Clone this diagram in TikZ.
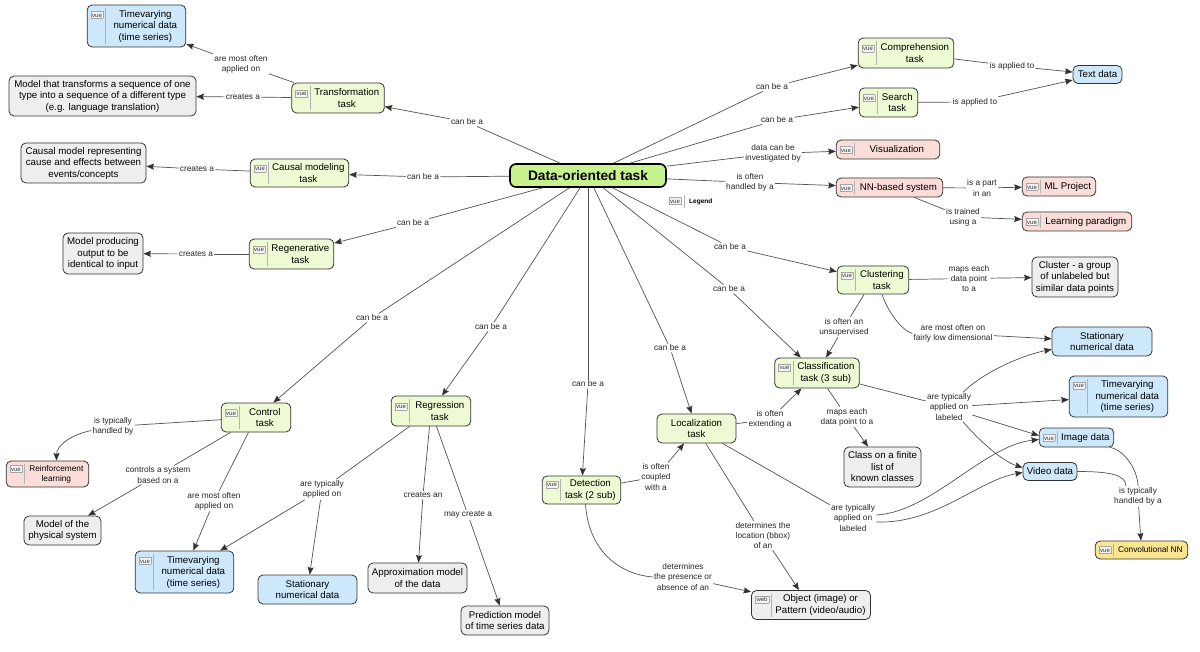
\documentclass[tikz,border=0pt]{standalone}
\usepackage{fontspec}
\setmainfont{Liberation Sans}
\usetikzlibrary{arrows.meta}
\definecolor{cdot}{HTML}{C8F28E}
\definecolor{ctask}{HTML}{EDFAD3}
\definecolor{cdata}{HTML}{CCE8FA}
\definecolor{cmodel}{HTML}{EEEEEE}
\definecolor{csys}{HTML}{FADCD8}
\definecolor{cnnc}{HTML}{FAE590}
\newcommand{\vueicon}{{\setlength{\fboxsep}{1.1pt}\setlength{\fboxrule}{0.4pt}\fcolorbox{black!35}{black!4}{\fontsize{6}{6}\selectfont\color{black!80}\rule{0pt}{4.4pt}vue}}}
\newcommand{\webicon}{{\setlength{\fboxsep}{1.1pt}\setlength{\fboxrule}{0.4pt}\fcolorbox{black!35}{black!4}{\fontsize{6}{6}\selectfont\color{black!80}\rule{0pt}{4.4pt}web}}}
\newcommand{\vtext}[3][\vueicon]{#1\hspace{5pt}\parbox[t]{\dimexpr#2pt-25pt\relax}{\centering #3}}
\tikzset{
  nbase/.style={rounded corners=5pt, draw=black!80, line width=0.8pt, inner xsep=3.5pt, inner ysep=3pt, font=\fontsize{9.7}{11.5}\selectfont},
  taskbox/.style={nbase, fill=ctask},
  databox/.style={nbase, fill=cdata},
  modelbox/.style={nbase, fill=cmodel},
  sysbox/.style={nbase, fill=csys},
  nnbox/.style={nbase, fill=cnnc},
  plain/.style={align=center},
  vuebox/.style={path picture={\draw[black!30, line width=0.8pt] ([xshift=#1,yshift=-3pt]path picture bounding box.north west) -- ([xshift=#1,yshift=3pt]path picture bounding box.south west);}},
  vuebox/.default=18.6pt,
  dotbox/.style={rounded corners=6pt, draw=black, line width=1.6pt, fill=cdot, font=\fontsize{13.75}{15}\selectfont\bfseries, minimum width=156pt, minimum height=23pt},
  lbl/.style={fill=white, rounded corners=2pt, inner sep=1.2pt, font=\fontsize{8.3}{10.2}\selectfont, text=black!85, align=center},
  conn/.style={draw=black!68, line width=0.7pt},
  arrc/.style={conn, -{Stealth[length=7.5pt, width=6pt, inset=1pt, color=black!80]}},
}
\begin{document}
\begin{tikzpicture}[x=1pt, y=-1pt]
\fill[white] (0,0) rectangle (1200,652);
\useasboundingbox (0,0) rectangle (1200,652);

% ---------- concept nodes ----------
\node[dotbox] (dot) at (588,175.5) {Data-oriented task};

\node[databox, vuebox, minimum height=42pt] (tv1) at (136.5,26) {\vtext{99}{Timevarying\\numerical data\\(time series)}};
\node[taskbox, vuebox, minimum height=30pt] (trans) at (338,98) {\vtext{93}{Transformation\\task}};
\node[modelbox, plain, minimum width=187pt, minimum height=40pt] (mtrans) at (102.5,96) {Model that transforms a sequence of one\\type into a sequence of a different type\\(e.g. language translation)};
\node[modelbox, plain, minimum width=125pt, minimum height=40pt] (mcausal) at (83.5,163) {Causal model representing\\cause and effects between\\events/concepts};
\node[taskbox, vuebox, minimum height=28pt] (causal) at (299.5,173) {\vtext{99}{Causal modeling\\task}};
\node[taskbox, vuebox, minimum height=30pt] (regen) at (291.5,254) {\vtext{85}{Regenerative\\task}};
\node[modelbox, plain, minimum width=80pt, minimum height=41pt] (mregen) at (103,253.5) {Model producing\\output to be\\identical to input};
\node[taskbox, vuebox, minimum height=30pt] (comp) at (906,53) {\vtext{96}{Comprehension\\task}};
\node[taskbox, vuebox, minimum height=29pt] (search) at (888.5,102.5) {\vtext{59}{Search\\task}};
\node[databox, plain, minimum width=49pt, minimum height=18pt] (text) at (1097.5,74.5) {Text data};
\node[sysbox, vuebox, minimum height=19pt] (vis) at (888,149.5) {\vtext{104}{Visualization}};
\node[sysbox, vuebox, minimum height=19pt] (nn) at (889.5,187.5) {\vtext{107}{NN-based system}};
\node[sysbox, vuebox, minimum height=19pt] (mlp) at (1059,186.5) {\vtext{74}{ML Project}};
\node[sysbox, vuebox, minimum height=19pt] (lp) at (1077,221.5) {\vtext{110}{Learning paradigm}};
\node[taskbox, vuebox, minimum height=28pt] (clus) at (873,280) {\vtext{72}{Clustering\\task}};
\node[modelbox, plain, minimum width=86pt, minimum height=40pt] (mclus) at (1075,277) {Cluster - a group\\of unlabeled but\\similar data points};
\node[databox, plain, minimum width=100pt, minimum height=29pt] (stat2) at (1102,341.5) {Stationary\\numerical data};
\node[taskbox, vuebox, minimum height=30pt] (class) at (817,373) {\vtext{85}{Classification\\task (3 sub)}};
\node[databox, vuebox, minimum height=41pt] (tv2) at (1118.5,396.5) {\vtext{99}{Timevarying\\numerical data\\(time series)}};
\node[databox, vuebox, minimum height=19pt] (img) at (1076.5,437.5) {\vtext{75}{Image data}};
\node[databox, plain, minimum width=54pt, minimum height=18pt] (vid) at (1050,471.5) {Video data};
\node[nnbox, vuebox, minimum height=18pt, font=\fontsize{8.3}{10}\selectfont] (cnn) at (1141.5,550) {\vtext{93}{Convolutional NN}};
\node[modelbox, plain, minimum width=77pt, minimum height=40pt] (mclass) at (882.5,467) {Class on a finite\\list of\\known classes};
\node[taskbox, plain, minimum width=79pt, minimum height=29pt] (loc) at (696.5,428.5) {Localization\\task};
\node[taskbox, vuebox, minimum height=28pt] (det) at (581.5,490) {\vtext{79}{Detection\\task (2 sub)}};
\node[modelbox, vuebox=19.8pt, minimum height=29pt] (obj) at (811,605) {\vtext[\webicon]{118}{Object (image) or\\Pattern (video/audio)}};
\node[taskbox, vuebox, minimum height=29pt] (ctrl) at (256,417.5) {\vtext{70}{Control\\task}};
\node[taskbox, vuebox, minimum height=30pt] (regr) at (431,411) {\vtext{80}{Regression\\task}};
\node[sysbox, vuebox, minimum height=26pt, font=\fontsize{8.3}{10}\selectfont] (rl) at (47.5,474) {\vtext{83}{Reinforcement\\learning}};
\node[modelbox, plain, minimum width=77pt, minimum height=29pt] (mphys) at (62.5,530.5) {Model of the\\physical system};
\node[databox, vuebox, minimum height=42pt] (tv3) at (184.5,572) {\vtext{99}{Timevarying\\numerical data\\(time series)}};
\node[databox, plain, minimum width=99pt, minimum height=29pt] (stat1) at (307.5,589.5) {Stationary\\numerical data};
\node[modelbox, plain, minimum width=99pt, minimum height=30pt] (mapprox) at (417.5,578) {Approximation model\\of the data};
\node[modelbox, plain, minimum width=88pt, minimum height=29pt] (mpred) at (505,620.5) {Prediction model\\of time series data};

% legend
\node[inner sep=0pt] (legicon) at (675,201) {\vueicon};
\node[anchor=west, inner sep=0pt, font=\fontsize{6.5}{7}\selectfont\bfseries] (legend) at (689,202) {Legend};
\draw[black!30, line width=0.8pt] (684,195) -- (684,208);

% ---------- link labels ----------
\node[lbl] (l1) at (467,122) {can be a};
\node[lbl] (l2) at (241,64) {are most often\\applied on};
\node[lbl] (l3) at (243,97) {creates a};
\node[lbl] (l4) at (423,177) {can be a};
\node[lbl] (l5) at (197,169) {creates a};
\node[lbl] (l6) at (413,223) {can be a};
\node[lbl] (l7) at (196,254) {creates a};
\node[lbl] (l8) at (372,318) {can be a};
\node[lbl] (l9) at (491,327) {can be a};
\node[lbl] (l10) at (588,384) {can be a};
\node[lbl] (l11) at (670,348) {can be a};
\node[lbl] (l12) at (729,289) {can be a};
\node[lbl] (l13) at (730,247) {can be a};
\node[lbl] (l14) at (772,87) {can be a};
\node[lbl] (l15) at (777,120) {can be a};
\node[lbl] (l16) at (773,153.5) {data can be\\investigated by};
\node[lbl] (l17) at (750,182.5) {is often\\handled by a};
\node[lbl] (l18) at (1012,66) {is applied to};
\node[lbl] (l19) at (975,102) {is applied to};
\node[lbl] (l20) at (982,188) {is a part\\in an};
\node[lbl] (l21) at (963,217) {is trained\\using a};
\node[lbl] (l22) at (969,278.5) {maps each\\data point\\to a};
\node[lbl] (l23) at (844,327) {is often an\\unsupervised};
\node[lbl] (l24) at (953,333.5) {are most often on\\fairly low dimensional};
\node[lbl] (l25) at (949,407) {are typically\\applied on\\labeled};
\node[lbl] (l26) at (847,417) {maps each\\data point to a};
\node[lbl] (l27) at (770,419.5) {is often\\extending a};
\node[lbl] (l28) at (656,477) {is often\\coupled\\with a};
\node[lbl] (l29) at (763,535.5) {determines the\\location (bbox)\\of an};
\node[lbl] (l30) at (683,577) {determines\\the presence or\\absence of an};
\node[lbl] (l31) at (853,518) {are typically\\applied on\\labeled};
\node[lbl] (l32) at (1138,496.5) {is typically\\handled by a};
\node[lbl] (l33) at (113,426.5) {is typically\\handled by};
\node[lbl] (l34) at (158,475) {controls a system\\based on a};
\node[lbl] (l35) at (214,501) {are most often\\applied on};
\node[lbl] (l36) at (322,489.5) {are typically\\applied on};
\node[lbl] (l37) at (423,495) {creates an};
\node[lbl] (l38) at (468,515) {may create a};

% ---------- connectors ----------
\draw[conn] (dot) -- (l1);  \draw[arrc] (l1) -- (trans);
\draw[conn] (trans) -- (l2); \draw[arrc] (l2) -- (tv1);
\draw[conn] (trans) -- (l3); \draw[arrc] (l3) -- (mtrans);
\draw[conn] (dot) -- (l4);  \draw[arrc] (l4) -- (causal);
\draw[conn] (causal) -- (l5); \draw[arrc] (l5) -- (mcausal);
\draw[conn] (dot) -- (l6);  \draw[arrc] (l6) -- (regen);
\draw[conn] (regen) -- (l7); \draw[arrc] (l7) -- (mregen);
\draw[conn] (dot) -- (l8);  \draw[arrc] (l8) -- (ctrl);
\draw[conn] (dot) -- (l9);  \draw[arrc] (l9) -- (regr);
\draw[conn] (dot) -- (l10); \draw[arrc] (l10) -- (det);
\draw[conn] (dot) -- (l11); \draw[arrc] (l11) -- (loc);
\draw[conn] (dot) -- (l12); \draw[arrc] (l12) -- (class);
\draw[conn] (dot) -- (l13); \draw[arrc] (l13) -- (clus);
\draw[conn] (dot) -- (l14); \draw[arrc] (l14) -- (comp);
\draw[conn] (dot) -- (l15); \draw[arrc] (l15) -- (search);
\draw[conn] (dot) -- (l16); \draw[arrc] (l16) -- (vis);
\draw[conn] (dot) -- (l17); \draw[arrc] (l17) -- (nn);

\draw[conn] (comp) -- (l18); \draw[arrc] (l18) -- (text);
\draw[conn] (search) -- (l19); \draw[arrc] (l19) -- (text);
\draw[conn] (nn) -- (l20); \draw[arrc] (l20) -- (mlp);
\draw[conn] (nn) -- (l21); \draw[arrc] (l21) -- (lp);

\draw[conn] (clus) -- (l22); \draw[arrc] (l22) -- (mclus);
\draw[conn] (clus) -- (l23); \draw[arrc] (l23) -- (class);
\draw[conn] ([xshift=9pt]clus.south) .. controls +(5,15) and +(-12,-4) .. (l24.west);
\draw[arrc] (l24) -- (stat2);

\draw[conn] (class) -- (l25);
\draw[arrc] ([xshift=14pt]l25.north) .. controls +(20,-20) and +(-30,6) .. ([yshift=7pt]stat2.south west);
\draw[arrc] (l25) -- (tv2);
\draw[arrc] ([yshift=-8pt]l25.east) -- ([yshift=2pt]img.west);
\draw[arrc] ([xshift=14pt]l25.south) .. controls +(15,18) and +(-20,-6) .. ([yshift=4pt]vid.west);
\draw[conn] (class) -- (l26); \draw[arrc] (l26) -- (mclass);

\draw[conn] (loc) -- (l27); \draw[arrc] (l27) -- (class);
\draw[conn] (det) -- (l28); \draw[arrc] (l28) -- (loc);
\draw[conn] ([xshift=4pt]det.south) .. controls +(3,45) and +(-35,-3) .. (l30.west);
\draw[arrc] (l30) -- (obj);
\draw[conn] (loc) -- (l29); \draw[arrc] (l29) -- ([xshift=-12pt]obj.north);
\draw[conn] (loc) -- (l31);
\draw[arrc] ([yshift=3pt]l31.east) .. controls +(55,-3) and +(-55,6) .. ([yshift=-2pt]img.west);
\draw[arrc] ([yshift=-4pt]l31.east) .. controls +(60,2) and +(-45,8) .. ([yshift=-1pt]vid.west);

\draw[conn] ([xshift=-4pt]img.south east) .. controls +(15,3) and +(0,-15) .. (l32.north);
\draw[conn] (vid.east) .. controls +(30,0) and +(0,-12) .. ([xshift=-12pt]l32.north);
\draw[arrc] (l32) -- (cnn);

\draw[conn] (ctrl) -- (l33);
\draw[arrc] ([yshift=-4pt]l33.west) .. controls +(-20,4) and +(0,-15) .. ([xshift=9pt]rl.north);
\draw[conn] (ctrl) -- (l34); \draw[arrc] (l34) -- (mphys);
\draw[conn] (ctrl) -- (l35); \draw[arrc] (l35) -- (tv3);

\draw[conn] (regr) -- (l36); \draw[arrc] (l36) -- (tv3); \draw[arrc] (l36) -- (stat1);
\draw[conn] (regr) -- (l37); \draw[arrc] (l37) -- (mapprox);
\draw[conn] (regr) -- (l38); \draw[arrc] (l38) -- (mpred);
\end{tikzpicture}
\end{document}
